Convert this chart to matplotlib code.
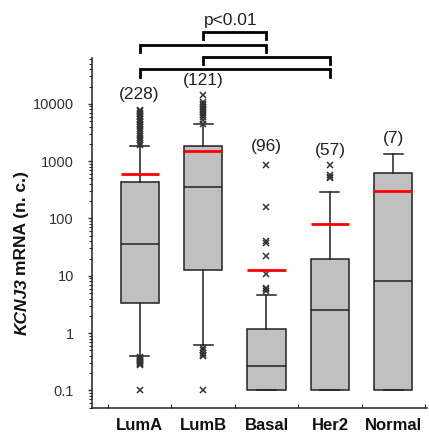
import matplotlib
matplotlib.use("Agg")
import matplotlib.pyplot as plt
from matplotlib.transforms import blended_transform_factory
from matplotlib.ticker import FixedLocator, FuncFormatter, LogLocator, NullFormatter

plt.rcParams['font.family'] = ['Liberation Sans', 'DejaVu Sans']

# ---- data ----
categories = ["LumA", "LumB", "Basal", "Her2", "Normal"]
counts = ["(228)", "(121)", "(96)", "(57)", "(7)"]
q1 = [3.4, 12.5, 0.1, 0.1, 0.1]
medians = [36, 360, 0.27, 2.5, 8.1]
q3 = [440, 1870, 1.18, 20, 617]
whisk_lo = [0.4, 0.62, 0.1, 0.1, 0.1]
whisk_hi = [1850, 4430, 4.6, 288, 1325]
means = [608, 1530, 12.7, 79, 307]
fliers = [
    [1900, 2100, 2300, 2500, 2700, 3000, 3300, 3600, 3900, 4200, 4500, 4800,
     5100, 5400, 5800, 6200, 6600, 7000, 7500, 7800,
     0.39, 0.37, 0.35, 0.34, 0.33, 0.32, 0.31, 0.30, 0.29, 0.28, 0.1],
    [4500, 5200, 5800, 6400, 7000, 7600, 8200, 8800, 9400, 10000, 10800, 14300,
     0.55, 0.5, 0.45, 0.42, 0.4, 0.1],
    [5.5, 5.9, 6.2, 10.7, 22, 38, 41, 161, 860],
    [500, 530, 577, 860],
    [],
]
yticks = [0.1, 1, 10, 100, 1000, 10000]
comparisons = [(1, 2), (0, 2), (1, 3), (0, 3)]
sig_label = "p<0.01"

# ---- figure ----
W, H = 429, 437
fig = plt.figure(figsize=(W / 100, H / 100), dpi=100)
ax = fig.add_axes([92 / W, (H - 407.7) / H, 335 / W, (407.7 - 58) / H])

stats = []
for i in range(len(categories)):
    stats.append(dict(label=categories[i], q1=q1[i], med=medians[i], q3=q3[i],
                      whislo=whisk_lo[i], whishi=whisk_hi[i], mean=means[i],
                      fliers=fliers[i]))

ax.bxp(stats, positions=range(len(categories)), widths=0.6, capwidths=0.3,
       patch_artist=True, showmeans=True, meanline=True,
       boxprops=dict(facecolor="#c0c0c0", edgecolor="#222222", linewidth=1.1),
       medianprops=dict(color="#222222", linewidth=1.1),
       whiskerprops=dict(color="#222222", linewidth=1.1),
       capprops=dict(color="#222222", linewidth=1.1),
       meanprops=dict(color="#ff0000", linestyle="-", linewidth=2.0),
       flierprops=dict(marker="x", markeredgecolor="#333333", markersize=5,
                       markeredgewidth=1.1, linestyle="none"))

ax.set_yscale("log")
ax.set_ylim(0.05, 63000)
ax.set_xlim(-0.75, 4.53)

ax.yaxis.set_major_locator(FixedLocator(yticks))
ax.yaxis.set_major_formatter(FuncFormatter(lambda v, p: f"{v:g}"))
ax.yaxis.set_minor_locator(LogLocator(base=10, subs=range(2, 10), numticks=20))
ax.yaxis.set_minor_formatter(NullFormatter())
ax.tick_params(axis="y", which="major", direction="out", length=3, width=1,
               color="#333333", labelsize=10.5, labelcolor="#333333", pad=10)
ax.tick_params(axis="y", which="minor", direction="out", length=2, width=0.8,
               color="#333333")

ax.set_xticks(range(len(categories)))
ax.set_xticklabels(categories, fontsize=12, fontweight="bold", color="#111111")
ax.set_xticks([i - 0.5 for i in range(len(categories) + 1)], minor=True)
ax.tick_params(axis="x", which="major", length=0, pad=7.5)
ax.tick_params(axis="x", which="minor", direction="in", length=3, width=0.8,
               color="#333333")

for s in ["top", "right"]:
    ax.spines[s].set_visible(False)
for s in ["left", "bottom"]:
    ax.spines[s].set_color("#222222")
    ax.spines[s].set_linewidth(1.1)

# ---- count labels & brackets (x in data, y in figure fraction) ----
tr = blended_transform_factory(ax.transData, fig.transFigure)
count_y_px = [95, 80, 147, 150, 138]
for i, c in enumerate(counts):
    ax.text(i, (H - count_y_px[i]) / H, c, transform=tr, ha="center",
            va="center", fontsize=12.5, color="#222222", clip_on=False)

bracket_px = [(31.7, 38.5), (44.7, 52), (57, 63.5), (69.3, 76.5)]
for (a, b), (ytop, ybot) in zip(comparisons, bracket_px):
    yt, yb = (H - ytop) / H, (H - ybot) / H
    ax.plot([a, a, b, b], [yb, yt, yt, yb], transform=tr, color="black",
            linewidth=2.0, clip_on=False, solid_joinstyle="miter")

ax.text(1.43, (H - 20) / H, sig_label, transform=tr, ha="center", va="center",
        fontsize=12.5, color="#222222", clip_on=False)

# ---- y label with italic gene name ----
fig.canvas.draw()
renderer = fig.canvas.get_renderer()
x_lab = 22 / W
y0 = (H - 335) / H
t1 = fig.text(x_lab, y0, "KCNJ3", rotation=90, ha="center", va="bottom",
              fontsize=12.5, fontweight="bold", fontstyle="italic", color="#111111")
bb = t1.get_window_extent(renderer)
y1 = y0 + bb.height / (H) + 3 / H
fig.text(x_lab, y1, "mRNA (n. c.)", rotation=90, ha="center", va="bottom",
         fontsize=12.5, fontweight="bold", color="#111111")

fig.savefig("out.png", dpi=100)
